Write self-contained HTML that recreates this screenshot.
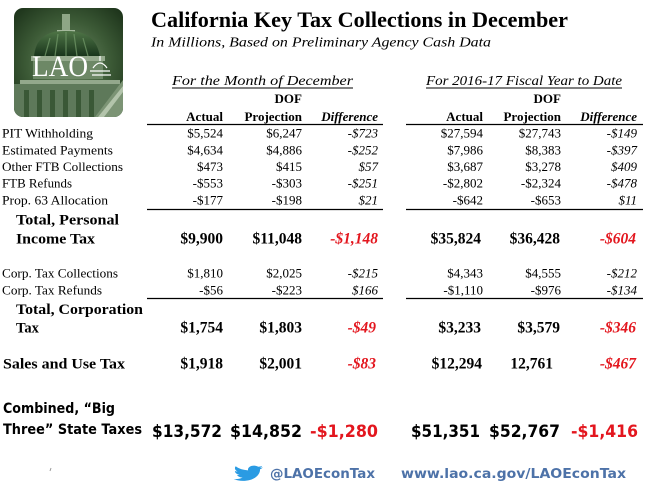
<!DOCTYPE html>
<html><head><meta charset="utf-8"><style>
html,body{margin:0;padding:0;background:#fff;}
svg{display:block;}
.s{font-family:"Liberation Serif",serif;}
.g{font-family:"DejaVu Sans","Liberation Sans",sans-serif;}
</style></head><body>
<svg width="667" height="499" viewBox="0 0 667 499" xmlns="http://www.w3.org/2000/svg">
<defs>
<clipPath id="cp"><rect x="14" y="8" width="109" height="109" rx="9"/></clipPath>
<radialGradient id="rg" cx="0.5" cy="0.5" r="0.7">
<stop offset="0" stop-color="#6f8c67"/><stop offset="0.55" stop-color="#3c5a36"/><stop offset="1" stop-color="#1a3018"/>
</radialGradient>
<linearGradient id="dm" x1="0" y1="0" x2="0" y2="1">
<stop offset="0" stop-color="#4f7547"/><stop offset="1" stop-color="#17331a"/>
</linearGradient>
</defs>
<rect x="0" y="0" width="667" height="499" fill="#fff"/>
<!-- Logo -->
<g clip-path="url(#cp)">
<rect x="14" y="8" width="109" height="109" fill="url(#rg)"/>
<rect x="62" y="14" width="8" height="22" fill="#8ea686"/>
<rect x="57" y="30" width="18" height="6" fill="#a5b99d"/>
<path d="M34 57 Q36 30 66 31 Q96 30 100 57 Z" fill="url(#dm)"/>
<g stroke="#6e9565" stroke-width="1.2" opacity="0.8">
<line x1="45" y1="56" x2="50" y2="38"/><line x1="55" y1="56" x2="58" y2="34"/><line x1="66" y1="56" x2="66" y2="32"/><line x1="77" y1="56" x2="74" y2="34"/><line x1="88" y1="56" x2="83" y2="38"/>
</g>
<rect x="31" y="56" width="74" height="5" fill="#96ab8e"/>
<rect x="33" y="61" width="70" height="18" fill="#6d8866"/>
<rect x="20" y="80" width="100" height="4" fill="#93a88c"/>
<rect x="14" y="84" width="109" height="33" fill="#5e795a"/>
<g fill="#3a5836">
<rect x="24" y="90" width="5" height="27"/><rect x="37" y="90" width="5" height="27"/><rect x="50" y="90" width="5" height="27"/><rect x="63" y="90" width="5" height="27"/><rect x="76" y="90" width="5" height="27"/><rect x="89" y="90" width="5" height="27"/>
</g>
<path d="M95 117 L123 80 L123 117 Z" fill="#7c9475"/>
<path d="M98 117 L123 86 L123 92 L104 117 Z" fill="#b3c4ab"/>
</g>
<text x="32" y="76" class="s" font-size="30" fill="#fff" textLength="56" lengthAdjust="spacingAndGlyphs">LAO</text>
<g stroke="#fff" stroke-width="1.2" fill="none">
<path d="M93 68 Q100 58 107 68"/><line x1="100" y1="56" x2="100" y2="61"/><line x1="90" y1="71" x2="110" y2="71"/><line x1="92" y1="75" x2="111" y2="75"/>
</g>
<!-- Title -->
<text x="151" y="27" class="s" font-size="22" font-weight="bold" textLength="417" lengthAdjust="spacingAndGlyphs">California Key Tax Collections in December</text>
<text x="151" y="46.5" class="s" font-size="14" font-style="italic" textLength="340" lengthAdjust="spacingAndGlyphs">In Millions, Based on Preliminary Agency Cash Data</text>
<!-- Section headers -->
<text x="172" y="85" class="s" font-size="13.5" font-style="italic" textLength="181" lengthAdjust="spacingAndGlyphs">For the Month of December</text>
<line x1="172" y1="88" x2="353" y2="88" stroke="#000" stroke-width="1"/>
<text x="426" y="85" class="s" font-size="13.5" font-style="italic" textLength="196" lengthAdjust="spacingAndGlyphs">For 2016-17 Fiscal Year to Date</text>
<line x1="426" y1="88" x2="622" y2="88" stroke="#000" stroke-width="1"/>
<g class="s" font-size="13" font-weight="bold" text-anchor="end">
<text x="302" y="103">DOF</text>
<text x="561" y="103">DOF</text>
<text x="223" y="121">Actual</text>
<text x="302" y="121">Projection</text>
<text x="378" y="121" font-style="italic">Difference</text>
<text x="483" y="121">Actual</text>
<text x="561" y="121">Projection</text>
<text x="637" y="121" font-style="italic">Difference</text>
</g>
<g stroke="#000" stroke-width="1.2">
<line x1="147" y1="124.5" x2="383" y2="124.5"/><line x1="406" y1="124.5" x2="643" y2="124.5"/>
<line x1="147" y1="209.5" x2="383" y2="209.5"/><line x1="406" y1="209.5" x2="643" y2="209.5"/>
<line x1="147" y1="298.5" x2="383" y2="298.5"/><line x1="406" y1="298.5" x2="643" y2="298.5"/>
</g>
<!-- Rows labels -->
<g class="s" font-size="12.5">
<text x="2" y="137.5" textLength="91" lengthAdjust="spacingAndGlyphs">PIT Withholding</text>
<text x="2" y="154.3" textLength="111" lengthAdjust="spacingAndGlyphs">Estimated Payments</text>
<text x="2" y="171" textLength="121" lengthAdjust="spacingAndGlyphs">Other FTB Collections</text>
<text x="2" y="187.7" textLength="70" lengthAdjust="spacingAndGlyphs">FTB Refunds</text>
<text x="2" y="204.3" textLength="106" lengthAdjust="spacingAndGlyphs">Prop. 63 Allocation</text>
<text x="2" y="277.3" textLength="116" lengthAdjust="spacingAndGlyphs">Corp. Tax Collections</text>
<text x="2" y="294.3" textLength="100" lengthAdjust="spacingAndGlyphs">Corp. Tax Refunds</text>
</g>
<g class="s" font-size="13" text-anchor="end">
<text x="223" y="137.5">$5,524</text><text x="302" y="137.5">$6,247</text><text x="378" y="137.5" font-style="italic">-$723</text>
<text x="483" y="137.5">$27,594</text><text x="561" y="137.5">$27,743</text><text x="637" y="137.5" font-style="italic">-$149</text>
<text x="223" y="154.3">$4,634</text><text x="302" y="154.3">$4,886</text><text x="378" y="154.3" font-style="italic">-$252</text>
<text x="483" y="154.3">$7,986</text><text x="561" y="154.3">$8,383</text><text x="637" y="154.3" font-style="italic">-$397</text>
<text x="223" y="171">$473</text><text x="302" y="171">$415</text><text x="378" y="171" font-style="italic">$57</text>
<text x="483" y="171">$3,687</text><text x="561" y="171">$3,278</text><text x="637" y="171" font-style="italic">$409</text>
<text x="223" y="187.7">-$553</text><text x="302" y="187.7">-$303</text><text x="378" y="187.7" font-style="italic">-$251</text>
<text x="483" y="187.7">-$2,802</text><text x="561" y="187.7">-$2,324</text><text x="637" y="187.7" font-style="italic">-$478</text>
<text x="223" y="204.3">-$177</text><text x="302" y="204.3">-$198</text><text x="378" y="204.3" font-style="italic">$21</text>
<text x="483" y="204.3">-$642</text><text x="561" y="204.3">-$653</text><text x="637" y="204.3" font-style="italic">$11</text>
<text x="223" y="277.3">$1,810</text><text x="302" y="277.3">$2,025</text><text x="378" y="277.3" font-style="italic">-$215</text>
<text x="483" y="277.3">$4,343</text><text x="561" y="277.3">$4,555</text><text x="637" y="277.3" font-style="italic">-$212</text>
<text x="223" y="294.3">-$56</text><text x="302" y="294.3">-$223</text><text x="378" y="294.3" font-style="italic">$166</text>
<text x="483" y="294.3">-$1,110</text><text x="561" y="294.3">-$976</text><text x="637" y="294.3" font-style="italic">-$134</text>
</g>
<!-- Totals -->
<g class="s" font-size="14.5" font-weight="bold">
<text x="16" y="224.3" textLength="103" lengthAdjust="spacingAndGlyphs">Total, Personal</text>
<text x="16" y="243.3" textLength="79" lengthAdjust="spacingAndGlyphs">Income Tax</text>
<text x="16" y="314" textLength="127" lengthAdjust="spacingAndGlyphs">Total, Corporation</text>
<text x="16" y="332.7">Tax</text>
<text x="3" y="368.3" textLength="122" lengthAdjust="spacingAndGlyphs">Sales and Use Tax</text>
</g>
<g class="s" font-size="15.5" font-weight="bold" text-anchor="end">
<text x="223" y="243.3">$9,900</text><text x="302" y="243.3">$11,048</text><text x="378" y="243.3" fill="#e3161e" font-style="italic">-$1,148</text>
<text x="481" y="243.3">$35,824</text><text x="560" y="243.3">$36,428</text><text x="636" y="243.3" fill="#e3161e" font-style="italic">-$604</text>
<text x="223" y="332.7">$1,754</text><text x="302" y="332.7">$1,803</text><text x="376" y="332.7" fill="#e3161e" font-style="italic">-$49</text>
<text x="481" y="332.7">$3,233</text><text x="560" y="332.7">$3,579</text><text x="636" y="332.7" fill="#e3161e" font-style="italic">-$346</text>
<text x="223" y="368.3">$1,918</text><text x="302" y="368.3">$2,001</text><text x="376" y="368.3" fill="#e3161e" font-style="italic">-$83</text>
<text x="482" y="368.3">$12,294</text><text x="553" y="368.3">12,761</text><text x="636" y="368.3" fill="#e3161e" font-style="italic">-$467</text>
</g>
<!-- Combined -->
<g class="g" font-size="14" font-weight="bold">
<text x="3" y="413" textLength="112" lengthAdjust="spacingAndGlyphs">Combined, “Big</text>
<text x="3" y="434" textLength="139" lengthAdjust="spacingAndGlyphs">Three” State Taxes</text>
</g>
<g class="g" font-size="17" font-weight="bold">
<text x="152" y="437" textLength="70" lengthAdjust="spacingAndGlyphs">$13,572</text>
<text x="230" y="437" textLength="72" lengthAdjust="spacingAndGlyphs">$14,852</text>
<text x="310" y="437" textLength="68" lengthAdjust="spacingAndGlyphs" fill="#e3161e">-$1,280</text>
<text x="411" y="437" textLength="69" lengthAdjust="spacingAndGlyphs">$51,351</text>
<text x="489" y="437" textLength="71" lengthAdjust="spacingAndGlyphs">$52,767</text>
<text x="571" y="437" textLength="67" lengthAdjust="spacingAndGlyphs" fill="#e3161e">-$1,416</text>
</g>
<!-- Footer -->
<line x1="51" y1="468" x2="50" y2="471" stroke="#999" stroke-width="1"/>
<path transform="translate(232.5,463.3) scale(1.29,0.83)" fill="#2a9be3" d="M23.643 4.937c-.835.37-1.732.62-2.675.733.962-.576 1.7-1.49 2.048-2.578-.9.534-1.897.922-2.958 1.13-.85-.904-2.06-1.47-3.4-1.47-2.572 0-4.658 2.086-4.658 4.66 0 .364.042.718.12 1.06-3.873-.195-7.304-2.05-9.602-4.868-.4.69-.63 1.490-.63 2.342 0 1.616.823 3.043 2.072 3.878-.764-.025-1.482-.234-2.11-.583v.06c0 2.257 1.605 4.140 3.737 4.568-.392.106-.803.162-1.227.162-.3 0-.593-.028-.877-.082.593 1.850 2.313 3.198 4.352 3.234-1.595 1.250-3.604 1.995-5.786 1.995-.376 0-.747-.022-1.112-.065 2.062 1.323 4.510 2.093 7.140 2.093 8.570 0 13.255-7.098 13.255-13.254 0-.2-.005-.402-.014-.602.910-.658 1.700-1.477 2.323-2.410z"/>
<g class="g" font-size="13" font-weight="bold" fill="#4d72a8">
<text x="270" y="478" textLength="105" lengthAdjust="spacingAndGlyphs">@LAOEconTax</text>
<text x="401" y="478" textLength="225" lengthAdjust="spacingAndGlyphs">www.lao.ca.gov/LAOEconTax</text>
</g>
</svg>
</body></html>
